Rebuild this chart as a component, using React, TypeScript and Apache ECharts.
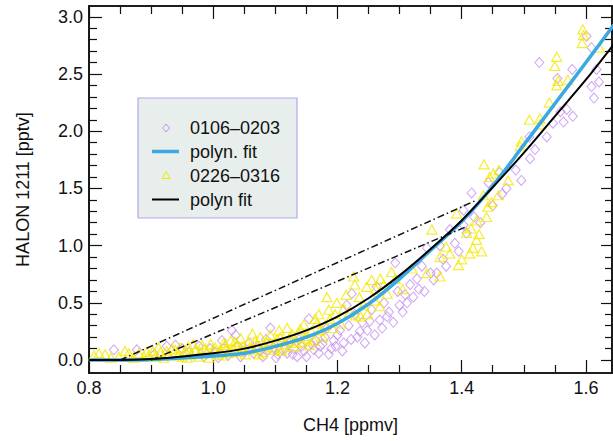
import React, { useEffect, useRef } from "react";
import * as echarts from "echarts";

// ---- axis settings ----
const X_MIN = 0.8;
const X_MAX = 1.642;
const Y_MIN = -0.113;
const Y_MAX = 3.094;
const xMajor = [0.8, 1.0, 1.2, 1.4, 1.6];
const xMinor = [0.85, 0.9, 0.95, 1.05, 1.1, 1.15, 1.25, 1.3, 1.35, 1.45, 1.5, 1.55];
const yMajor = [0.0, 0.5, 1.0, 1.5, 2.0, 2.5, 3.0];
const yMinor = [0.1, 0.2, 0.3, 0.4, 0.6, 0.7, 0.8, 0.9, 1.1, 1.2, 1.3, 1.4, 1.6, 1.7, 1.8, 1.9, 2.1, 2.2, 2.3, 2.4, 2.6, 2.7, 2.8, 2.9];

// ---- data ----
const seriesNames = ["0106–0203", "polyn. fit", "0226–0316", "polyn fit"];

const purplePoints: [number, number][] = [
  [0.840, 0.09], [0.877, 0.09], [0.905, 0.05], [0.925, 0.12], [0.939, 0.13], [0.950, 0.10],
  [0.961, 0.07], [0.977, 0.12], [0.985, 0.03], [0.995, 0.10], [1.003, 0.07], [1.008, 0.02],
  [1.014, 0.17], [1.017, 0.10], [1.024, 0.04], [1.030, 0.26], [1.036, 0.22], [1.040, 0.12],
  [1.044, 0.03], [1.052, 0.08], [1.058, 0.15], [1.065, 0.06], [1.072, 0.12], [1.076, 0.08],
  [1.080, 0.03], [1.085, 0.18], [1.088, 0.09], [1.092, 0.28], [1.097, 0.11], [1.101, 0.02],
  [1.104, 0.05], [1.110, 0.15], [1.115, 0.10], [1.119, 0.06], [1.124, 0.16], [1.128, 0.05],
  [1.130, 0.10], [1.135, 0.03], [1.138, 0.18], [1.142, 0.12], [1.146, 0.08], [1.150, 0.03],
  [1.154, 0.36], [1.158, 0.14], [1.162, 0.09], [1.165, 0.17], [1.170, 0.06], [1.172, 0.12],
  [1.176, 0.14], [1.180, 0.20], [1.183, 0.28], [1.186, 0.05], [1.190, 0.10], [1.194, 0.17],
  [1.197, 0.12], [1.200, 0.22], [1.204, 0.26], [1.208, 0.08], [1.210, 0.15], [1.215, 0.48],
  [1.218, 0.30], [1.222, 0.18], [1.223, 0.58], [1.228, 0.40], [1.232, 0.20], [1.236, 0.25],
  [1.240, 0.33], [1.244, 0.15], [1.248, 0.26], [1.252, 0.34], [1.255, 0.44], [1.260, 0.22],
  [1.263, 0.64], [1.268, 0.35], [1.272, 0.28], [1.275, 0.50], [1.280, 0.38], [1.283, 0.42],
  [1.290, 0.33], [1.293, 0.85], [1.297, 0.60], [1.300, 0.48], [1.305, 0.42], [1.309, 0.57],
  [1.312, 0.50], [1.317, 0.66], [1.322, 0.55], [1.328, 0.71], [1.331, 0.62], [1.336, 0.82],
  [1.340, 0.60], [1.344, 0.98], [1.350, 0.76], [1.355, 0.70], [1.360, 0.76], [1.365, 1.00],
  [1.370, 0.88], [1.375, 0.82], [1.381, 1.14], [1.389, 1.02], [1.395, 0.95], [1.403, 1.31],
  [1.403, 1.18], [1.408, 1.11], [1.416, 1.46], [1.420, 1.25], [1.430, 1.20], [1.443, 1.55],
  [1.450, 1.35], [1.461, 1.64], [1.465, 1.45], [1.472, 1.50], [1.487, 1.66], [1.496, 1.57],
  [1.509, 1.95], [1.510, 1.76], [1.518, 1.84], [1.525, 2.60], [1.537, 1.95], [1.547, 2.07],
  [1.554, 2.46], [1.559, 2.17], [1.564, 2.08], [1.569, 2.19], [1.578, 2.54], [1.579, 2.13],
  [1.601, 2.83], [1.609, 2.73], [1.609, 2.39], [1.613, 2.29], [1.617, 2.54], [1.621, 2.43],
];

const yellowPoints: [number, number][] = [
  [0.808, 0.04], [0.816, 0.06], [0.826, 0.05], [0.835, 0.02], [0.848, 0.03], [0.858, 0.08],
  [0.864, 0.06], [0.872, 0.02], [0.880, 0.06], [0.888, 0.03], [0.893, 0.07], [0.896, 0.04],
  [0.903, 0.08], [0.907, 0.03], [0.912, 0.11], [0.915, 0.07], [0.920, 0.02], [0.925, 0.08],
  [0.928, 0.05], [0.934, 0.10], [0.939, 0.09], [0.944, 0.04], [0.947, 0.11], [0.950, 0.03],
  [0.955, 0.08], [0.958, 0.02], [0.960, 0.12], [0.965, 0.05], [0.968, 0.14], [0.971, 0.09],
  [0.976, 0.03], [0.979, 0.07], [0.982, 0.13], [0.987, 0.10], [0.990, 0.06], [0.993, 0.02],
  [0.996, 0.14], [1.000, 0.09], [1.003, 0.11], [1.008, 0.05], [1.012, 0.08], [1.015, 0.04],
  [1.017, 0.15], [1.019, 0.13], [1.022, 0.11], [1.024, 0.06], [1.028, 0.17], [1.032, 0.10],
  [1.035, 0.16], [1.037, 0.13], [1.040, 0.07], [1.044, 0.19], [1.046, 0.09], [1.048, 0.12],
  [1.052, 0.05], [1.056, 0.15], [1.058, 0.10], [1.063, 0.23], [1.066, 0.09], [1.068, 0.17],
  [1.070, 0.13], [1.074, 0.05], [1.076, 0.20], [1.080, 0.07], [1.082, 0.12], [1.085, 0.16],
  [1.090, 0.15], [1.092, 0.22], [1.096, 0.11], [1.099, 0.09], [1.103, 0.18], [1.106, 0.26],
  [1.108, 0.20], [1.110, 0.08], [1.113, 0.11], [1.115, 0.14], [1.119, 0.28], [1.121, 0.17],
  [1.124, 0.20], [1.127, 0.23], [1.130, 0.12], [1.134, 0.15], [1.138, 0.23], [1.140, 0.27],
  [1.142, 0.16], [1.146, 0.31], [1.148, 0.19], [1.151, 0.21], [1.155, 0.13], [1.158, 0.25],
  [1.162, 0.17], [1.164, 0.36], [1.167, 0.32], [1.170, 0.40], [1.172, 0.26], [1.176, 0.20],
  [1.180, 0.30], [1.183, 0.55], [1.186, 0.44], [1.188, 0.36], [1.192, 0.28], [1.196, 0.40],
  [1.199, 0.50], [1.205, 0.32], [1.210, 0.45], [1.214, 0.57], [1.220, 0.42], [1.226, 0.73],
  [1.229, 0.39], [1.228, 0.66], [1.235, 0.55], [1.237, 0.38], [1.242, 0.48], [1.247, 0.64],
  [1.248, 0.40], [1.255, 0.70], [1.260, 0.52], [1.262, 0.62], [1.268, 0.47], [1.269, 0.71],
  [1.275, 0.66], [1.280, 0.58], [1.287, 0.77], [1.293, 0.71], [1.305, 0.62], [1.320, 0.80],
  [1.344, 0.76], [1.352, 1.14], [1.365, 0.90], [1.365, 0.73], [1.375, 0.99], [1.381, 0.93],
  [1.392, 1.28], [1.395, 0.83], [1.400, 0.88], [1.408, 1.11], [1.413, 0.93], [1.415, 1.15],
  [1.418, 0.98], [1.424, 1.05], [1.424, 1.22], [1.428, 1.10], [1.432, 0.95], [1.435, 1.44],
  [1.436, 1.71], [1.440, 1.25], [1.442, 1.34], [1.445, 1.60], [1.448, 1.38], [1.451, 1.63],
  [1.459, 1.44], [1.460, 1.66], [1.475, 1.57], [1.494, 1.87], [1.496, 1.91], [1.509, 2.10],
  [1.526, 2.11], [1.526, 2.06], [1.541, 2.25], [1.550, 2.57], [1.553, 2.65], [1.553, 2.40],
  [1.555, 2.44], [1.571, 2.45], [1.594, 2.77], [1.595, 2.89], [1.596, 2.84], [1.622, 2.73],
];

const fitX = [0.80, 0.90, 1.00, 1.05, 1.10, 1.15, 1.20, 1.25, 1.30, 1.35, 1.40, 1.45, 1.50, 1.55, 1.60, 1.645];
const blueFitY = [0.0, 0.005, 0.035, 0.06, 0.12, 0.20, 0.32, 0.49, 0.71, 0.96, 1.21, 1.52, 1.88, 2.24, 2.60, 2.93];
const blackFitY = [0.0, 0.01, 0.06, 0.10, 0.17, 0.26, 0.38, 0.54, 0.74, 0.97, 1.22, 1.51, 1.81, 2.13, 2.45, 2.76];

const dashUpper: [number, number][] = [[0.85, 0.0], [1.425, 1.40]];
const dashLower: [number, number][] = [[0.90, 0.0], [1.405, 1.16]];

const FONT = '"Liberation Sans", Arial, Helvetica, sans-serif';
const AXIS_COLOR = "#111";
const PURPLE = "#c48ef0";
const YELLOW = "#f4e800";
const BLUE = "#3aa8e2";

function makeAxis(dim: "x" | "y", position: string, ticks: number[], len: number, withLabels: boolean, extra: any = {}) {
  const base: any = {
    type: "value",
    position,
    min: dim === "x" ? X_MIN : Y_MIN,
    max: dim === "x" ? X_MAX : Y_MAX,
    axisLine: { show: true, onZero: false, lineStyle: { color: AXIS_COLOR, width: 1.6 } },
    axisTick: { show: true, inside: true, length: len, customValues: ticks, lineStyle: { color: AXIS_COLOR, width: 1.2 } },
    axisLabel: withLabels
      ? {
          show: true,
          customValues: ticks,
          formatter: (v: number) => v.toFixed(1),
          fontFamily: FONT,
          fontSize: 18,
          color: "#111",
          margin: 6,
        }
      : { show: false },
    splitLine: { show: false },
    minorTick: { show: false },
  };
  return Object.assign(base, extra);
}

export default function App() {
  const ref = useRef<HTMLDivElement>(null);

  useEffect(() => {
    if (!ref.current) return;
    const chart = echarts.init(ref.current, null, { renderer: "svg" });

    const xAxes = [
      makeAxis("x", "bottom", xMajor, 13, true, {
        name: "CH4 [ppmv]",
        nameLocation: "middle",
        nameGap: 43,
        nameTextStyle: { fontFamily: FONT, fontSize: 18, color: "#111" },
      }),
      makeAxis("x", "bottom", xMinor, 8, false),
      makeAxis("x", "top", xMajor, 13, false),
      makeAxis("x", "top", xMinor, 8, false),
    ];
    const yAxes = [
      makeAxis("y", "left", yMajor, 13, true, {
        name: "HALON 1211 [pptv]",
        nameLocation: "middle",
        nameGap: 57,
        nameTextStyle: { fontFamily: FONT, fontSize: 18, color: "#111" },
      }),
      makeAxis("y", "left", yMinor, 8, false),
      makeAxis("y", "right", yMajor, 11, false),
      makeAxis("y", "right", yMinor, 7, false),
    ];

    const lx = 138;
    const ly = 98;
    const textX = 190;
    const rows = [128, 151.5, 175.5, 199.5];
    const symX = 166;

    chart.setOption({
      animation: false,
      backgroundColor: "#fff",
      grid: { left: 89, top: 6, width: 523, height: 367, containLabel: false, outerBoundsMode: "none" },
      xAxis: xAxes,
      yAxis: yAxes,
      series: [
        {
          name: seriesNames[0],
          type: "scatter",
          data: purplePoints,
          symbol: "diamond",
          symbolSize: [9, 10],
          itemStyle: { color: "rgba(0,0,0,0)", borderColor: PURPLE, borderWidth: 1 },
        },
        {
          name: seriesNames[2],
          type: "scatter",
          data: yellowPoints,
          symbol: "triangle",
          symbolSize: [10, 9],
          itemStyle: { color: "rgba(0,0,0,0)", borderColor: YELLOW, borderWidth: 1.2 },
        },
        {
          name: seriesNames[1],
          type: "line",
          data: fitX.map((x, i) => [x, blueFitY[i]]),
          smooth: 0.3,
          symbol: "none",
          lineStyle: { color: BLUE, width: 3.5 },
        },
        {
          name: seriesNames[3],
          type: "line",
          data: fitX.map((x, i) => [x, blackFitY[i]]),
          smooth: 0.3,
          symbol: "none",
          lineStyle: { color: "#000", width: 2 },
        },
        {
          name: "mix1",
          type: "line",
          data: dashUpper,
          symbol: "none",
          lineStyle: { color: "#111", width: 1.5, type: [7, 3, 1.5, 3] },
        },
        {
          name: "mix2",
          type: "line",
          data: dashLower,
          symbol: "none",
          lineStyle: { color: "#111", width: 1.5, type: [7, 3, 1.5, 3] },
        },
      ],
      graphic: [
        {
          type: "rect",
          z: 100,
          shape: { x: lx, y: ly, width: 159, height: 120 },
          style: { fill: "#e7eeec", stroke: "#b7a6ea", lineWidth: 1.2 },
        },
        {
          type: "polygon",
          z: 101,
          shape: { points: [[symX, rows[0] - 4], [symX + 3.5, rows[0]], [symX, rows[0] + 4], [symX - 3.5, rows[0]]] },
          style: { fill: "none", stroke: PURPLE, lineWidth: 1 },
        },
        {
          type: "line",
          z: 101,
          shape: { x1: 152, y1: rows[1], x2: 179, y2: rows[1] },
          style: { stroke: BLUE, lineWidth: 3.5 },
        },
        {
          type: "polygon",
          z: 101,
          shape: { points: [[symX, rows[2] - 4], [symX + 4, rows[2] + 3], [symX - 4, rows[2] + 3]] },
          style: { fill: "none", stroke: YELLOW, lineWidth: 1 },
        },
        {
          type: "line",
          z: 101,
          shape: { x1: 152, y1: rows[3], x2: 179, y2: rows[3] },
          style: { stroke: "#000", lineWidth: 2 },
        },
        ...seriesNames.map((t, i) => ({
          type: "text",
          z: 101,
          x: textX,
          y: rows[i],
          style: { text: t, fontFamily: FONT, fontSize: 18, fill: "#111", verticalAlign: "middle", align: "left" },
        })),
      ],
    });

    return () => chart.dispose();
  }, []);

  return (
    <div
      ref={ref}
      style={{ position: "absolute", left: 0, top: 0, width: 613, height: 441, background: "#fff" }}
    />
  );
}
